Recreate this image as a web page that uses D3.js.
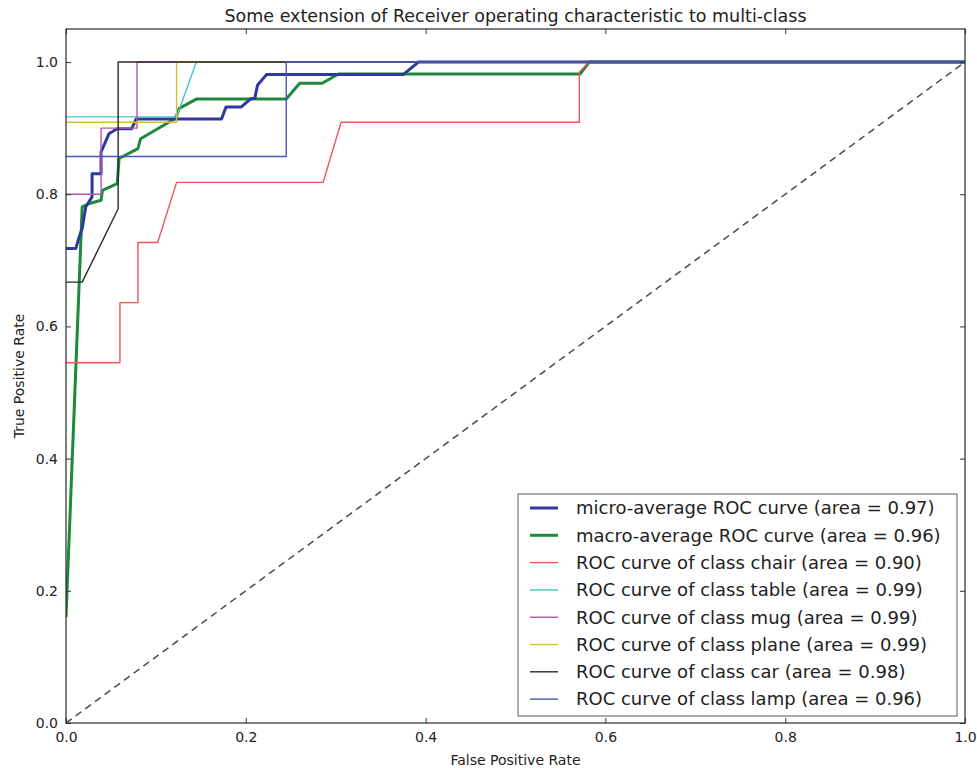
<!DOCTYPE html>
<html lang="en">
<head>
    <meta charset="UTF-8">
    <script src="https://d3js.org/d3.v7.min.js"></script>
    <title>ROC multi-class</title>
    <style>
        body { margin: 0; background: #fff; }
        text { font-family: "DejaVu Sans", sans-serif; fill: #222; }
    </style>
</head>
<body>
    <div id="chart"></div>
    <script>
        // curve points (false positive rate / true positive rate)
        var microFpr = [0, 0.011, 0.0145, 0.018, 0.022, 0.029, 0.029, 0.039, 0.039, 0.048, 0.057, 0.073, 0.078, 0.173, 0.178, 0.195, 0.206, 0.210, 0.213, 0.223, 0.375, 0.392, 1];
        var microTpr = [0.718, 0.718, 0.735, 0.748, 0.781, 0.796, 0.831, 0.831, 0.864, 0.892, 0.899, 0.899, 0.914, 0.914, 0.932, 0.932, 0.945, 0.945, 0.965, 0.981, 0.981, 1, 1];

        var macroFpr = [0, 0.018, 0.026, 0.039, 0.0405, 0.057, 0.059, 0.080, 0.083, 0.122, 0.126, 0.145, 0.245, 0.260, 0.285, 0.303, 0.572, 0.582, 1];
        var macroTpr = [0.16, 0.781, 0.786, 0.791, 0.806, 0.816, 0.854, 0.869, 0.884, 0.915, 0.930, 0.944, 0.944, 0.968, 0.968, 0.982, 0.982, 1, 1];

        var chairFpr = [0, 0.060, 0.060, 0.080, 0.080, 0.102, 0.123, 0.286, 0.306, 0.571, 0.571, 0.582, 1];
        var chairTpr = [0.545, 0.545, 0.636, 0.636, 0.727, 0.727, 0.818, 0.818, 0.909, 0.909, 0.985, 1, 1];

        var tableFpr = [0, 0.123, 0.145, 1];
        var tableTpr = [0.917, 0.917, 1, 1];

        var mugFpr = [0, 0.039, 0.039, 0.079, 0.079, 1];
        var mugTpr = [0.8, 0.8, 0.9, 0.9, 1, 1];

        var planeFpr = [0, 0.123, 0.123, 1];
        var planeTpr = [0.909, 0.909, 1, 1];

        var carFpr = [0, 0.018, 0.058, 0.058, 1];
        var carTpr = [0.667, 0.667, 0.778, 1, 1];

        var lampFpr = [0, 0.245, 0.245, 1];
        var lampTpr = [0.857, 0.857, 1, 1];

        var legendLabels = [
            "micro-average ROC curve (area = 0.97)",
            "macro-average ROC curve (area = 0.96)",
            "ROC curve of class chair (area = 0.90)",
            "ROC curve of class table (area = 0.99)",
            "ROC curve of class mug (area = 0.99)",
            "ROC curve of class plane (area = 0.99)",
            "ROC curve of class car (area = 0.98)",
            "ROC curve of class lamp (area = 0.96)"
        ];
        var xTicks = [0, 0.2, 0.4, 0.6, 0.8, 1.0];
        var yTicks = [0, 0.2, 0.4, 0.6, 0.8, 1.0];

        var series = [
            { fpr: microFpr, tpr: microTpr, color: "#2c3a9e", width: 3 },
            { fpr: macroFpr, tpr: macroTpr, color: "#1d8a3a", width: 3 },
            { fpr: chairFpr, tpr: chairTpr, color: "#ee5560", width: 1.4 },
            { fpr: tableFpr, tpr: tableTpr, color: "#3fc6c6", width: 1.4 },
            { fpr: mugFpr, tpr: mugTpr, color: "#b455b4", width: 1.4 },
            { fpr: planeFpr, tpr: planeTpr, color: "#d2c22e", width: 1.4 },
            { fpr: carFpr, tpr: carTpr, color: "#2a2a2a", width: 1.4 },
            { fpr: lampFpr, tpr: lampTpr, color: "#4a54c0", width: 1.4 }
        ];

        var W = 977, H = 768;
        var pLeft = 66, pRight = 965, pTop = 29, pBottom = 723;

        var svg = d3.select("#chart").append("svg")
            .attr("width", W)
            .attr("height", H);

        var x = d3.scaleLinear().domain([0, 1]).range([pLeft, pRight]);
        var y = d3.scaleLinear().domain([0, 1.05]).range([pBottom, pTop]);

        svg.append("clipPath").attr("id", "plotclip")
            .append("rect")
            .attr("x", pLeft).attr("y", pTop)
            .attr("width", pRight - pLeft).attr("height", pBottom - pTop);

        var plot = svg.append("g").attr("clip-path", "url(#plotclip)");

        var line = d3.line()
            .x(function (d) { return x(d[0]); })
            .y(function (d) { return y(d[1]); });

        // draw macro first so micro sits on top, then the classes
        var drawOrder = [1, 0, 2, 3, 4, 5, 6, 7];
        drawOrder.forEach(function (i) {
            var s = series[i];
            var pts = s.fpr.map(function (f, j) { return [f, s.tpr[j]]; });
            plot.append("path")
                .datum(pts)
                .attr("d", line)
                .attr("fill", "none")
                .attr("stroke", s.color)
                .attr("stroke-width", s.width)
                .attr("stroke-linejoin", "round");
        });

        // chance line
        plot.append("path")
            .datum([[0, 0], [1, 1]])
            .attr("d", line)
            .attr("fill", "none")
            .attr("stroke", "#4a4a4a")
            .attr("stroke-width", 1.5)
            .attr("stroke-dasharray", "7,5");

        // axes, ticks inside on all four sides
        var tickLen = 5;
        svg.append("g")
            .attr("transform", "translate(0," + pBottom + ")")
            .call(d3.axisBottom(x).tickValues(xTicks).tickSize(-tickLen).tickPadding(9).tickFormat(d3.format(".1f")))
            .call(function (g) { g.select(".domain").remove(); });
        svg.append("g")
            .attr("transform", "translate(0," + pTop + ")")
            .call(d3.axisTop(x).tickValues(xTicks).tickSize(-tickLen).tickFormat(""))
            .call(function (g) { g.select(".domain").remove(); });
        svg.append("g")
            .attr("transform", "translate(" + pLeft + ",0)")
            .call(d3.axisLeft(y).tickValues(yTicks).tickSize(-tickLen).tickPadding(8).tickFormat(d3.format(".1f")))
            .call(function (g) { g.select(".domain").remove(); });
        svg.append("g")
            .attr("transform", "translate(" + pRight + ",0)")
            .call(d3.axisRight(y).tickValues(yTicks).tickSize(-tickLen).tickFormat(""))
            .call(function (g) { g.select(".domain").remove(); });

        svg.selectAll(".tick line").attr("stroke", "#333");
        svg.selectAll(".tick text")
            .style("font-family", "DejaVu Sans, sans-serif")
            .style("font-size", "14px")
            .attr("fill", "#333");

        svg.append("rect")
            .attr("x", pLeft).attr("y", pTop)
            .attr("width", pRight - pLeft).attr("height", pBottom - pTop)
            .attr("fill", "none")
            .attr("stroke", "#2a2a2a")
            .attr("stroke-width", 1.2);

        // titles
        svg.append("text")
            .attr("x", (pLeft + pRight) / 2)
            .attr("y", 22)
            .attr("text-anchor", "middle")
            .style("font-size", "17.5px")
            .text("Some extension of Receiver operating characteristic to multi-class");

        svg.append("text")
            .attr("x", (pLeft + pRight) / 2)
            .attr("y", 765)
            .attr("text-anchor", "middle")
            .style("font-size", "14px")
            .text("False Positive Rate");

        svg.append("text")
            .attr("transform", "translate(24," + (pTop + pBottom) / 2 + ") rotate(-90)")
            .attr("text-anchor", "middle")
            .style("font-size", "14px")
            .text("True Positive Rate");

        // legend
        var rowH = 27.3;
        var legX = 518, legY = 494, legW = 439, legH = 222;
        var legend = svg.append("g");
        legend.append("rect")
            .attr("x", legX).attr("y", legY)
            .attr("width", legW).attr("height", legH)
            .attr("fill", "#fff")
            .attr("stroke", "#777")
            .attr("stroke-width", 1.2);

        legendLabels.forEach(function (lab, i) {
            var cy = legY + 14 + i * rowH;
            legend.append("line")
                .attr("x1", legX + 12).attr("x2", legX + 40)
                .attr("y1", cy).attr("y2", cy)
                .attr("stroke", series[i].color)
                .attr("stroke-width", series[i].width);
            legend.append("text")
                .attr("x", legX + 58)
                .attr("y", cy)
                .attr("dy", "0.35em")
                .style("font-size", "18px")
                .text(lab);
        });
    </script>
</body>
</html>
